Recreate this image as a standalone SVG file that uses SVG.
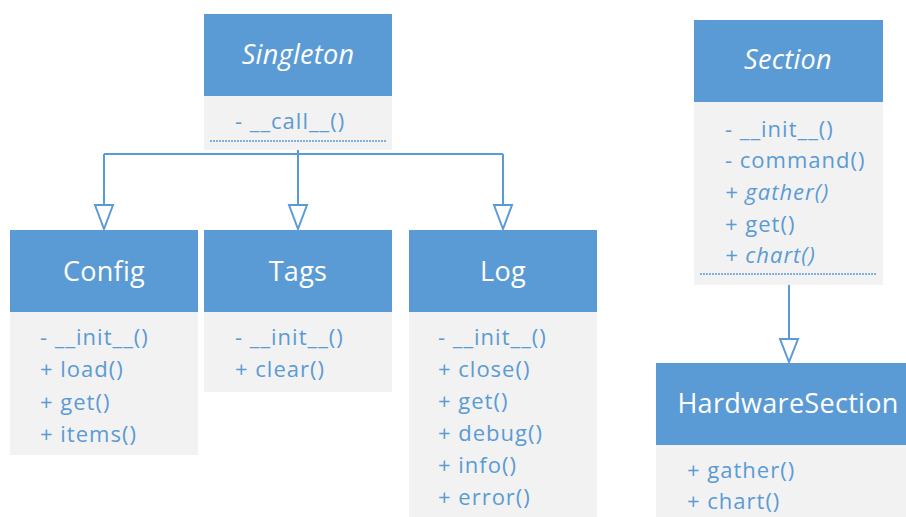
<svg xmlns="http://www.w3.org/2000/svg" width="906" height="517" viewBox="0 0 906 517">
<defs>
<style>
.hd{fill:#5b9bd5;}
.bd{fill:#f2f2f2;}
.tt{font-family:"Open Sans","Noto Sans",sans-serif;font-size:27px;fill:#ffffff;text-anchor:middle;letter-spacing:0.3px;}
.it{font-family:"Open Sans","Noto Sans",sans-serif;font-size:22px;fill:#5b9bd5;letter-spacing:1px;}
.i{font-style:italic;}
.dot{stroke:#5b9bd5;stroke-width:1.5;stroke-dasharray:2 1;fill:none;}
.ln{stroke:#5b9bd5;stroke-width:2;fill:none;}
.ar{stroke:#5b9bd5;stroke-width:2;fill:#ffffff;stroke-linejoin:miter;}
</style>
</defs>
<rect width="906" height="517" fill="#ffffff"/>
<g id="connectors">
<path class="ln" d="M298,150 V205 M104,154 H503 M104,154 V205 M503,154 V205"/>
<polygon class="ar" points="95,205 113,205 104,229"/>
<polygon class="ar" points="289,205 307,205 298,229"/>
<polygon class="ar" points="494,205 512,205 503,229"/>
<path class="ln" d="M789,285 V339"/>
<polygon class="ar" points="780,339 798,339 789,362"/>
</g>
<g id="Singleton">
<rect class="bd" x="204" y="96" width="188" height="54"/>
<rect class="hd" x="204" y="14" width="188" height="82"/>
<text class="tt i" x="298" y="64">Singleton</text>
<text class="it" x="235" y="129">- __call__()</text>
<line class="dot" x1="210" y1="141" x2="386" y2="141"/>
</g>
<g id="Config">
<rect class="bd" x="10" y="312" width="188" height="143"/>
<rect class="hd" x="10" y="230" width="188" height="82"/>
<text class="tt" x="104" y="281">Config</text>
<text class="it" x="40" y="345">- __init__()</text>
<text class="it" x="40" y="377">+ load()</text>
<text class="it" x="40" y="410">+ get()</text>
<text class="it" x="40" y="442">+ items()</text>
</g>
<g id="Tags">
<rect class="bd" x="204" y="312" width="188" height="80"/>
<rect class="hd" x="204" y="230" width="188" height="82"/>
<text class="tt" x="298" y="281">Tags</text>
<text class="it" x="235" y="345">- __init__()</text>
<text class="it" x="235" y="377">+ clear()</text>
</g>
<g id="Log">
<rect class="bd" x="409" y="312" width="188" height="205"/>
<rect class="hd" x="409" y="230" width="188" height="82"/>
<text class="tt" x="503" y="281">Log</text>
<text class="it" x="438" y="345">- __init__()</text>
<text class="it" x="438" y="377">+ close()</text>
<text class="it" x="438" y="409">+ get()</text>
<text class="it" x="438" y="441">+ debug()</text>
<text class="it" x="438" y="473">+ info()</text>
<text class="it" x="438" y="505">+ error()</text>
</g>
<g id="Section">
<rect class="bd" x="694" y="102" width="189" height="183"/>
<rect class="hd" x="694" y="20" width="189" height="82"/>
<text class="tt i" x="788" y="69">Section</text>
<text class="it" x="725" y="137">- __init__()</text>
<text class="it" x="725" y="168">- command()</text>
<text class="it i" x="725" y="200">+ gather()</text>
<text class="it" x="725" y="232">+ get()</text>
<text class="it i" x="725" y="263">+ chart()</text>
<line class="dot" x1="700" y1="274" x2="877" y2="274"/>
</g>
<g id="HardwareSection">
<rect class="bd" x="656" y="445" width="266" height="72"/>
<rect class="hd" x="656" y="363" width="266" height="82"/>
<text class="tt" x="788" y="413">HardwareSection</text>
<text class="it" x="687" y="478">+ gather()</text>
<text class="it" x="687" y="509">+ chart()</text>
</g>
</svg>
